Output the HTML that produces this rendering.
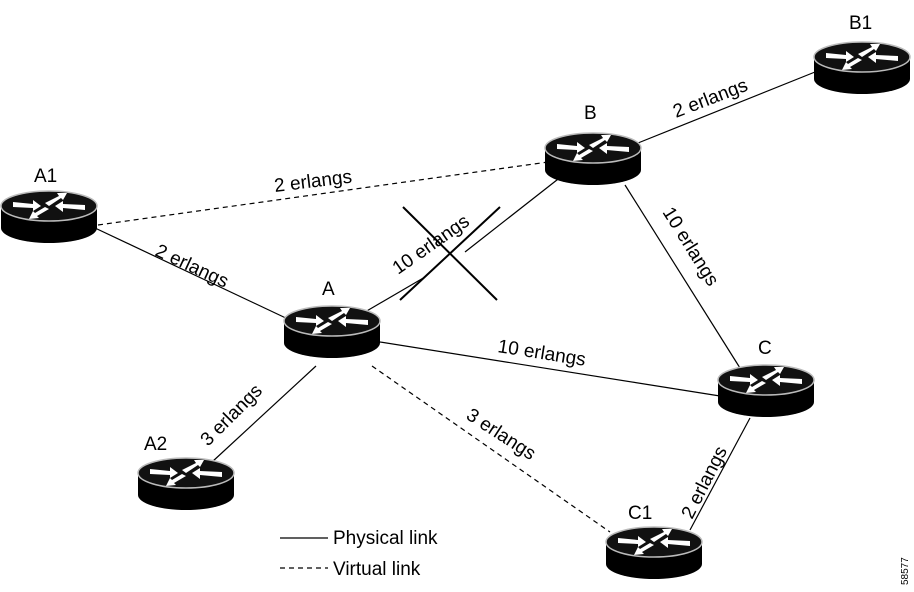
<!DOCTYPE html>
<html><head><style>body{margin:0;background:#fff}svg{display:block}text{font-family:"Liberation Sans",sans-serif;fill:#000}</style></head><body>
<svg width="914" height="592" viewBox="0 0 914 592">
<defs>
<g id="r">
<rect x="-48" y="0" width="96" height="22" fill="#000"/>
<ellipse cx="0" cy="22" rx="48" ry="15" fill="#000"/>
<ellipse cx="0" cy="0" rx="48" ry="15" fill="#111" stroke="#bbb" stroke-width="1.5"/>
<g fill="#fff">
<polygon points="-36,-4 -16,-2 -16,-6 -8,0 -16,5 -16,2 -36,1"/>
<polygon points="-4,-3 10,-10 8,-13 18,-13 14,-6 12,-8 0,0"/>
<polygon points="36,4 14,2 14,6 6,0 14,-5 14,-2 36,-1"/>
<polygon points="0,3 -12,10 -10,12 -20,13 -16,5 -14,7 -4,1"/>
</g>
</g>
</defs>
<g stroke="#000" stroke-width="1.2" fill="none">
<line x1="95" y1="228" x2="290" y2="320"/>
<line x1="98" y1="225" x2="548" y2="162" stroke-dasharray="5,4"/>
<line x1="365" y1="312" x2="425" y2="277"/>
<line x1="465" y1="252" x2="562" y2="176"/>
<line x1="380" y1="342" x2="720" y2="396"/>
<line x1="372" y1="366" x2="610" y2="532" stroke-dasharray="5,4"/>
<line x1="316" y1="366" x2="212" y2="462"/>
<line x1="625" y1="185" x2="740" y2="368"/>
<line x1="638" y1="143" x2="815" y2="72"/>
<line x1="750" y1="418" x2="690" y2="530"/>
<line x1="403" y1="207" x2="497" y2="300" stroke-width="2"/>
<line x1="400" y1="300" x2="500" y2="207" stroke-width="2"/>
<line x1="280" y1="538" x2="328" y2="538"/>
<line x1="280" y1="568" x2="328" y2="568" stroke-dasharray="5,4"/>
</g>
<use href="#r" x="49" y="206"/>
<use href="#r" x="332" y="321"/>
<use href="#r" x="186" y="473"/>
<use href="#r" x="593" y="148"/>
<use href="#r" x="862" y="57"/>
<use href="#r" x="766" y="380"/>
<use href="#r" x="654" y="542"/>
<g font-size="19">
<text x="34" y="182">A1</text>
<text x="322" y="295">A</text>
<text x="144" y="450">A2</text>
<text x="584" y="119">B</text>
<text x="849" y="29">B1</text>
<text x="758" y="354">C</text>
<text x="628" y="519">C1</text>
<text x="275" y="192" transform="rotate(-7 275 192)">2 erlangs</text>
<text x="154" y="255" transform="rotate(25 154 255)">2 erlangs</text>
<text x="398" y="275" transform="rotate(-35 398 275)">10 erlangs</text>
<text x="497" y="352" transform="rotate(9 497 352)">10 erlangs</text>
<text x="208" y="447" transform="rotate(-45 208 447)">3 erlangs</text>
<text x="465" y="418" transform="rotate(33 465 418)">3 erlangs</text>
<text x="676" y="118" transform="rotate(-21 676 118)">2 erlangs</text>
<text x="662" y="212" transform="rotate(58 662 212)">10 erlangs</text>
<text x="692" y="520" transform="rotate(-63 692 520)">2 erlangs</text>
<text x="333" y="544">Physical link</text>
<text x="333" y="575">Virtual link</text>
</g>
<text x="908" y="585" font-size="10" transform="rotate(-90 908 585)">58577</text>
</svg>
</body></html>
